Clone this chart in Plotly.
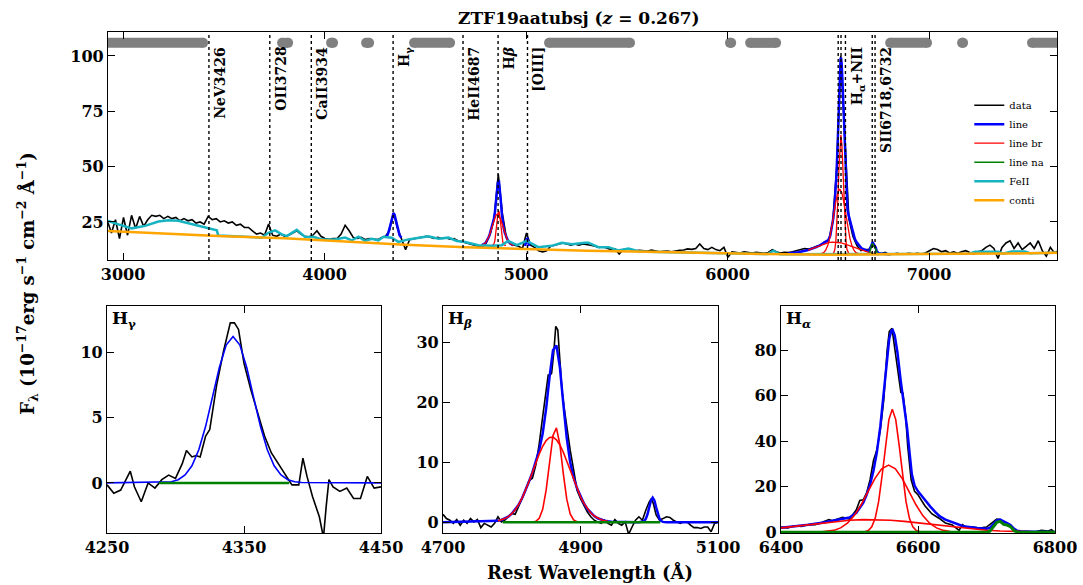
import plotly.graph_objects as go

FONT = "DejaVu Serif"

# ---------------- top panel: full spectrum (rest frame) ----------------
top_wave_start = 2922
top_wave_step = 20
top_flux = [
    25.5, 20, 26, 17.5, 27, 19, 28, 22, 27.5, 23,
    26, 28, 27.5, 28, 26.5, 27.5, 26.5, 27, 25.5, 26.5,
    25.5, 26, 24.5, 25, 24, 27.5, 26, 26.5, 25, 25.5,
    24.5, 25, 23.5, 24, 22.5, 22.5, 21, 19.5, 20, 19,
    24, 19, 18.5, 19.5, 18.5, 19, 20, 21, 19.5, 18.5,
    18.2, 19, 21, 18.5, 17.5, 17.2, 17.5, 17.5, 19.5, 23.5,
    21, 18, 17.5, 18, 17, 17.5, 17.3, 17, 17.8, 18.5,
    21, 29.2, 22, 17.5, 12.5, 17, 17.5, 17.8, 18, 18.5,
    18.2, 17.5, 18, 17.5, 17.8, 17.2, 17.5, 16.5, 16, 15.5,
    15, 14.5, 14, 13.5, 15.5, 19.5, 27, 46.5, 29, 18,
    15, 14.5, 14, 13, 20, 14.5, 13.5, 12, 11.5, 12,
    14, 14.5, 15, 15.5, 15, 14.5, 15, 14.5, 15, 14.8,
    14.5, 14, 13.5, 13.8, 13, 12.5, 12.8, 10.5, 12.5, 12.8,
    12.5, 12, 12.2, 12, 11.8, 12.3, 11.8, 11.5, 11.7, 11.8,
    11.5, 12, 12.2, 12.3, 12.8, 12.6, 13, 15, 13, 12.5,
    13.5, 12.5, 12, 13.5, 9, 11.5, 11.2, 11, 11.5, 11.2,
    11, 11.3, 11, 10.8, 11.2, 12.5, 11.5, 11, 11.3, 11.2,
    11.5, 12, 12.5, 13, 12.8, 13.2, 14, 14.5, 16, 16.5,
    25, 50, 100, 61, 26.5, 18.5, 14.3, 12, 12.5, 12.6,
    15.6, 11.2, 10.6, 11.2, 10.2, 10.5, 10.8, 10.4, 10.6, 10.8,
    10.5, 10.8, 10.5, 11, 12, 13, 12.5, 11.5, 12, 11,
    11.5, 10.8, 11.5, 12, 11.2, 10.5, 11.5, 12, 13.5, 14.5,
    13, 8.5, 13.5, 15.5, 16.5, 13, 15.5, 12.5, 14, 15.5,
    13, 16.5, 12, 9.5, 13.5, 11, 12,
]
top_wave = [top_wave_start + top_wave_step * i for i in range(len(top_flux))]

conti_wave = [2900, 3200, 3500, 3800, 4100, 4400, 4700, 5000, 5300, 5600, 5900,
              6200, 6500, 6800, 7100, 7400, 7650]
conti_flux = [21.0, 19.7, 18.5, 17.6, 16.0, 14.7, 13.6, 12.7, 12.0, 11.5, 10.9,
              10.5, 10.2, 10.5, 10.6, 10.7, 11.1]

feii_wave = [2900, 2927, 2977, 3043, 3109, 3175, 3225, 3274, 3324, 3390, 3440, 3465,
             3472, 3688, 3721, 3754, 3788, 3812, 3862, 3903, 3944, 3986, 4052, 4102,
             4135, 4168, 4201, 4234, 4267, 4292, 4333, 4366, 4416, 4466, 4515, 4565,
             4614, 4656, 4697, 4763, 4829, 4879, 4912, 4954, 5003, 5061, 5127, 5177,
             5227, 5293, 5309, 5359, 5409, 5458, 5508, 5557, 5600, 6200, 6227, 6260,
             7200, 7228, 7344, 7370, 7410, 7476, 7500, 7650]
feii_flux = [26.0, 25.4, 23.9, 22.1, 23.2, 25.2, 25.8, 25.5, 24.4, 22.9, 22.1, 21.2,
             18.9, 17.9, 20.1, 21.2, 19.4, 18.6, 21.4, 18.2, 18.3, 17.1, 17.1, 17.9,
             16.7, 18.3, 16.4, 17.4, 16.7, 18.3, 17.9, 16.0, 17.1, 17.9, 18.5, 17.4,
             17.9, 16.4, 15.9, 14.5, 14.2, 14.5, 16.4, 14.5, 16.4, 13.6, 14.2, 15.6,
             14.9, 15.6, 15.6, 13.6, 13.6, 12.1, 13.0, 11.8, 11.5, 10.5, 12.0, 10.4,
             10.6, 11.5, 11.5, 10.7, 11.6, 11.6, 10.9, 11.1]

# fitting windows (gray bars at the top)
win_start = [2880, 3789, 4032, 4206, 4444, 5114, 6012, 6112, 6807, 7164, 7511]
win_end = [3397, 3819, 4042, 4221, 4623, 5516, 6018, 6241, 6990, 7169, 7700]
win_level = 105.9

# emission-line markers
mark_waves = [3426, 3728, 3934, 4340, 4687, 4861, 5007, 6549, 6563, 6585, 6718, 6732]
label_waves = [3426, 3728, 3934, 4340, 4687, 4861, 5007, 6585, 6732]
label_texts = ["NeV3426", "OII3728", "CaII3934", "H<sub>γ</sub>", "HeII4687",
               "H<i>β</i>", "[OIII]", "H<sub>α</sub>+NII", "SII6718,6732"]

# local continuum (conti+FeII) level below each line in the top panel
hg_base_top = 17.7
hb_base_top = 14.3
ha_base_top = 10.3

# ---------------- H gamma ----------------
hg_wave = [4250, 4255, 4260, 4267, 4270, 4275, 4280, 4285, 4290, 4295, 4300, 4305,
           4308, 4312, 4315, 4318, 4322, 4325, 4330, 4335, 4340, 4343, 4346, 4350,
           4355, 4360, 4365, 4370, 4375, 4380, 4385, 4390, 4393, 4396, 4400, 4405,
           4408, 4410, 4412, 4415, 4420, 4425, 4430, 4435, 4440, 4445, 4450]
hg_flux = [-0.15, -0.8, -0.55, 0.9, -0.3, -1.45, 0.0, -0.4, 0.25, 0.6, 0.35, 1.5,
           2.5, 2.0, 2.1, 2.0, 3.6, 4.1, 7.5, 10.1, 12.3, 12.3, 11.8, 9.2,
           7.15, 5.35, 3.6, 2.3, 1.5, 0.6, -0.15, -0.15, 1.9, 0.5, -1.05, -2.6,
           -4.2, -1.8, 0.25, -0.3, -0.65, -0.4, -1.2, -1.2, 0.5, -0.4, -0.3]
hg_line_wave = [4250, 4292, 4297, 4302, 4307, 4312, 4317, 4322, 4327, 4332, 4337, 4342,
                4347, 4352, 4357, 4362, 4367, 4372, 4377, 4382, 4387, 4392, 4450]
hg_line = [0, 0.03, 0.09, 0.25, 0.61, 1.32, 2.55, 4.35, 6.59, 8.87, 10.6, 11.25,
           10.6, 8.87, 6.59, 4.35, 2.55, 1.32, 0.61, 0.25, 0.09, 0.03, 0]
hg_na_wave = [4288, 4383]
hg_na = [0, 0]

# ---------------- H beta ----------------
hb_wave = [4700, 4705, 4710, 4715, 4720, 4725, 4730, 4735, 4740, 4745, 4750, 4755,
           4760, 4765, 4770, 4775, 4780, 4785, 4790, 4795, 4800, 4805, 4810, 4815,
           4820, 4825, 4830, 4835, 4840, 4845, 4850, 4853, 4856, 4858, 4861, 4864,
           4867, 4870, 4873, 4876, 4880, 4885, 4890, 4895, 4900, 4905, 4910, 4915,
           4920, 4925, 4930, 4935, 4940, 4945, 4950, 4955, 4960, 4965, 4970, 4975,
           4980, 4985, 4990, 4995, 5000, 5003, 5006, 5010, 5015, 5020, 5025, 5030,
           5035, 5040, 5045, 5050, 5055, 5060, 5065, 5070, 5075, 5080, 5085, 5090,
           5095, 5100]
hb_flux = [1.3, 0.6, 0.33, -0.2, 0.44, -0.5, 0.33, -0.2, 0.6, 0.05, 0.44, -0.9,
           -0.2, -0.5, -0.8, -0.2, 0.9, 0.05, 0.33, 0.9, 1.45, 1.3, 2.55, 3.9,
           5.3, 6.9, 7.3, 9.5, 13.1, 17.6, 21.4, 24.5, 24.5, 24.8, 28.1, 32.6,
           32.0, 26.4, 22.0, 19.2, 15.9, 12.0, 8.7, 5.3, 3.9, 2.8, 1.7, 0.9,
           0.33, 0.05, -0.2, 0.33, -0.2, -0.5, 0.44, -0.2, -0.5, 0.05, -2.0, -0.8,
           0.33, 0.9, 0.33, 2.0, 3.4, 3.9, 3.1, 1.2, 0.33, 0.6, 0.9, 0.8,
           0.33, 0.05, -0.2, 0.05, 0.05, -0.5, -0.9, -0.9, -1.05, -0.8, -0.8, -1.6,
           -0.2, 0.0]
hb_line_wave = [4700, 4775, 4780, 4785, 4790, 4795, 4800, 4805, 4810, 4815, 4820, 4825,
                4830, 4835, 4840, 4845, 4850, 4855, 4860, 4865, 4870, 4875, 4880, 4885,
                4890, 4895, 4900, 4905, 4910, 4915, 4920, 4925, 4930, 4935, 4940, 4945,
                4985, 4990, 4992.5, 4995, 4997.5, 5000, 5002.5, 5005, 5007.5, 5010,
                5012.5, 5015, 5017.5, 5020, 5025, 5100]
hb_line = [0, 0.13, 0.22, 0.37, 0.60, 0.93, 1.41, 2.07, 2.92, 3.99, 5.28, 6.73,
           8.29, 10.03, 12.02, 14.78, 18.92, 24.20, 28.62, 29.44, 25.80, 19.73, 14.02, 9.98,
           7.41, 5.63, 4.23, 3.12, 2.22, 1.53, 1.02, 0.65, 0.41, 0.24, 0.14, 0.08,
           0, 0.05, 0.18, 0.55, 1.33, 2.49, 3.62, 4.1, 3.62, 2.49,
           1.33, 0.55, 0.18, 0.05, 0, 0]
hb_br1_wave = [4830, 4835, 4840, 4845, 4850, 4855, 4860, 4865, 4870, 4875, 4880, 4885,
               4890, 4895, 4900]
hb_br1 = [0.0, 0.15, 0.65, 2.14, 5.33, 10.09, 14.46, 15.71, 12.94, 8.08, 3.83, 1.37,
          0.37, 0.08, 0.0]
hb_br2_wave = [4780, 4785, 4790, 4795, 4800, 4805, 4810, 4815, 4820, 4825, 4830, 4835,
               4840, 4845, 4850, 4855, 4860, 4865, 4870, 4875, 4880, 4885, 4890, 4895,
               4900, 4905, 4910, 4915, 4920, 4925, 4930, 4935, 4940]
hb_br2 = [0.22, 0.37, 0.60, 0.93, 1.41, 2.07, 2.92, 3.99, 5.28, 6.73, 8.29, 9.88,
          11.37, 12.64, 13.59, 14.11, 14.16, 13.73, 12.86, 11.65, 10.19, 8.61, 7.04, 5.55,
          4.23, 3.12, 2.22, 1.53, 1.02, 0.65, 0.41, 0.24, 0.14]
hb_na_wave = [4787, 5016]
hb_na = [0, 0]

# ---------------- H alpha ----------------
ha_wave = [6400, 6410, 6420, 6430, 6440, 6450, 6460, 6470, 6475, 6480, 6490, 6500,
           6510, 6515, 6520, 6525, 6530, 6535, 6540, 6545, 6550, 6555, 6558, 6562,
           6565, 6570, 6575, 6578, 6582, 6585, 6590, 6595, 6600, 6610, 6620, 6630,
           6640, 6650, 6655, 6660, 6665, 6670, 6680, 6690, 6700, 6710, 6715, 6720,
           6725, 6730, 6735, 6740, 6750, 6760, 6770, 6780, 6790, 6795, 6800]
ha_flux = [2.3, 1.9, 2.9, 2.6, 3.4, 3.4, 4.4, 5.6, 5.1, 5.6, 6.6, 5.8,
           9.9, 14.0, 14.3, 17.3, 23.1, 31.6, 36.3, 45.0, 58.2, 80.1, 88.2, 89.6,
           83.0, 71.3, 61.4, 61.1, 50.9, 37.7, 23.1, 18.0, 16.5, 11.7, 8.2, 6.3,
           4.1, 3.2, 1.9, 0.9, 3.4, 2.3, 2.3, 1.9, 2.3, 4.8, 5.8, 5.6,
           4.4, 4.1, 2.3, 0.9, 0.4, 0.3, 0.15, 0.9, 0.6, 1.2, -0.3]
ha_line_wave = [6300, 6350, 6400, 6420, 6440, 6460, 6480, 6490, 6500, 6510, 6520, 6525,
                6530, 6535, 6540, 6545, 6550, 6555, 6558, 6561, 6563, 6566, 6570, 6575,
                6580, 6584, 6588, 6591, 6595, 6600, 6605, 6610, 6618, 6625, 6632, 6640,
                6652, 6666, 6686, 6700, 6705, 6710, 6715, 6720, 6725, 6730, 6735, 6740,
                6745, 6750, 6770, 6800]
ha_line = [0.4, 1.0, 2.0, 2.6, 3.3, 4.2, 5.2, 5.8, 6.5, 8.6, 12.9, 16.5,
           20.9, 27.0, 35.2, 46.5, 62.0, 77.5, 85.0, 88.5, 88.9, 86.5, 79.0, 66.0,
           54.5, 46.0, 34.0, 25.5, 20.5, 18.0, 16.2, 14.2, 11.3, 9.0, 7.0, 5.6,
           4.1, 2.7, 1.9, 1.6, 2.0, 3.6, 5.2, 5.6, 4.6, 4.0, 3.2, 1.6,
           0.7, 0.5, 0.3, 0.1]
ha_br1_wave = [6517.5, 6522.5, 6527.5, 6532.5, 6537.5, 6542.5, 6547.5, 6552.5, 6557.5,
               6562.5, 6567.5, 6572.5, 6577.5, 6582.5, 6587.5, 6592.5, 6597.5, 6602.5,
               6607.5]
ha_br1 = [0.05, 0.21, 0.77, 2.37, 6.15, 13.47, 24.73, 38.16, 49.51,
          54.0, 49.51, 38.16, 24.73, 13.47, 6.15, 2.37, 0.77, 0.21, 0.05]
ha_br2_wave = [6457, 6467, 6477, 6487, 6497, 6507, 6517, 6527, 6537, 6547, 6557,
               6567, 6577, 6587, 6597, 6607, 6617, 6627, 6637, 6647, 6657]
ha_br2 = [0.11, 0.33, 0.84, 1.94, 3.99, 7.36, 12.1, 17.9, 23.6, 27.9, 29.5,
          27.9, 23.6, 17.9, 12.1, 7.36, 3.99, 1.94, 0.84, 0.33, 0.11]
ha_br3_wave = [6400, 6420, 6440, 6460, 6480, 6500, 6520, 6540, 6560, 6580, 6600,
               6620, 6640, 6660, 6680, 6700, 6720, 6740, 6760, 6780, 6800]
ha_br3 = [1.97, 2.65, 3.40, 4.14, 4.80, 5.30, 5.57, 5.57, 5.30, 4.80, 4.14,
          3.40, 2.65, 1.97, 1.40, 0.94, 0.60, 0.37, 0.21, 0.12, 0.06]
ha_na_wave = [6400, 6700, 6705, 6710, 6715, 6720, 6725, 6730, 6735, 6740, 6745, 6750, 6800]
ha_na = [0, 0, 0.5, 2.5, 4.4, 4.8, 3.5, 3.2, 2.5, 0.8, 0.1, 0, 0]

# ---------------- colours ----------------
C_DATA = "black"
C_LINE = "blue"
C_BR = "red"
C_NA = "green"
C_FE = "#17b3c1"
C_CONT = "orange"
C_WIN = "#808080"


def shifted(waves, vals, base, thresh):
    xs, ys = [], []
    for w, v in zip(waves, vals):
        if v > thresh:
            xs.append(w)
            ys.append(v + base)
    return xs, ys


def join(segments):
    xs, ys = [], []
    for sx, sy in segments:
        if xs:
            xs.append(None)
            ys.append(None)
        xs.extend(sx)
        ys.extend(sy)
    return xs, ys


fig = go.Figure()

# windows
wx, wy = [], []
for a, b in zip(win_start, win_end):
    wx += [a, b, None]
    wy += [win_level, win_level, None]
fig.add_trace(go.Scatter(x=wx, y=wy, mode="lines+markers", line=dict(color=C_WIN, width=10),
                         marker=dict(color=C_WIN, size=10), showlegend=False,
                         hoverinfo="skip", xaxis="x", yaxis="y"))

# top panel
fig.add_trace(go.Scatter(x=top_wave, y=top_flux, mode="lines", name="data",
                         line=dict(color=C_DATA, width=1.6), xaxis="x", yaxis="y"))
bx, by = join([
    shifted(hg_line_wave, hg_line, hg_base_top, 0.2),
    shifted(hb_line_wave[:36], hb_line[:36], hb_base_top, 0.2),
    shifted(hb_line_wave[36:], hb_line[36:], hb_base_top - 0.7, 0.2),
    shifted(ha_line_wave, ha_line, ha_base_top, 0.0),
])
fig.add_trace(go.Scatter(x=bx, y=by, mode="lines", name="line",
                         line=dict(color=C_LINE, width=2.5), xaxis="x", yaxis="y"))
rx, ry = join([
    shifted(hb_br1_wave, hb_br1, hb_base_top, -1),
    shifted(hb_br2_wave, hb_br2, hb_base_top, -1),
    shifted(ha_br1_wave, ha_br1, ha_base_top, -1),
    shifted(ha_br2_wave, ha_br2, ha_base_top, -1),
    shifted(ha_br3_wave, ha_br3, ha_base_top, -1),
])
fig.add_trace(go.Scatter(x=rx, y=ry, mode="lines", name="line br",
                         line=dict(color=C_BR, width=1.3), xaxis="x", yaxis="y"))
gx, gy = shifted(ha_na_wave[1:-1], ha_na[1:-1], ha_base_top, -1)
fig.add_trace(go.Scatter(x=gx, y=gy, mode="lines", name="line na",
                         line=dict(color=C_NA, width=1.5), xaxis="x", yaxis="y"))
fig.add_trace(go.Scatter(x=feii_wave, y=feii_flux, mode="lines", name="FeII",
                         line=dict(color=C_FE, width=2.5), xaxis="x", yaxis="y"))
fig.add_trace(go.Scatter(x=conti_wave, y=conti_flux, mode="lines", name="conti",
                         line=dict(color=C_CONT, width=2.5), xaxis="x", yaxis="y"))

# bottom panels
panels = [
    ("x2", "y2", hg_wave, hg_flux, hg_line_wave, hg_line, [], hg_na_wave, hg_na, 1.6, 2.5),
    ("x3", "y3", hb_wave, hb_flux, hb_line_wave, hb_line,
     [(hb_br1_wave, hb_br1), (hb_br2_wave, hb_br2)], hb_na_wave, hb_na, 2.5, 2.5),
    ("x4", "y4", ha_wave, ha_flux, ha_line_wave, ha_line,
     [(ha_br1_wave, ha_br1), (ha_br2_wave, ha_br2), (ha_br3_wave, ha_br3)],
     ha_na_wave, ha_na, 2.5, 3),
]
for xa, ya, dw, df, lw, lf, brs, nw, nf, lwid, nwid in panels:
    fig.add_trace(go.Scatter(x=dw, y=df, mode="lines", line=dict(color=C_DATA, width=1.6),
                             showlegend=False, xaxis=xa, yaxis=ya))
    fig.add_trace(go.Scatter(x=lw, y=lf, mode="lines", line=dict(color=C_LINE, width=lwid),
                             showlegend=False, xaxis=xa, yaxis=ya))
    for w, f in brs:
        fig.add_trace(go.Scatter(x=w, y=f, mode="lines", line=dict(color=C_BR, width=1.6),
                                 showlegend=False, xaxis=xa, yaxis=ya))
    fig.add_trace(go.Scatter(x=nw, y=nf, mode="lines", line=dict(color=C_NA, width=nwid),
                             showlegend=False, xaxis=xa, yaxis=ya))

# dotted marker lines
for w in mark_waves:
    fig.add_shape(type="line", xref="x", yref="y domain", x0=w, x1=w, y0=0, y1=1,
                  line=dict(color="black", width=1.4, dash="dot"), layer="above")

annotations = []
for w, t in zip(label_waves, label_texts):
    annotations.append(dict(x=w, y=105.0, xref="x", yref="y", text=t, textangle=-90,
                            xanchor="left", yanchor="top", showarrow=False, xshift=1,
                            font=dict(family=FONT, size=14, color="black", weight="bold")))
for xd, yd, t in [("x2 domain", "y2 domain", "H<sub>γ</sub>"),
                  ("x3 domain", "y3 domain", "H<sub><i>β</i></sub>"),
                  ("x4 domain", "y4 domain", "H<sub><i>α</i></sub>")]:
    annotations.append(dict(x=0.01, y=1.0, xref=xd, yref=yd, text=t, showarrow=False,
                            xanchor="left", yanchor="top",
                            font=dict(family=FONT, size=17, color="black", weight="bold")))
annotations.append(dict(x=0.535, y=0.99, xref="paper", yref="paper",
                        text="ZTF19aatubsj (<i>z</i> = 0.267)", showarrow=False,
                        xanchor="center", yanchor="top",
                        font=dict(family=FONT, size=17, color="black", weight="bold")))
annotations.append(dict(x=0.025, y=0.515, xref="paper", yref="paper", textangle=-90,
                        text="F<sub>λ</sub> (10<sup>−17</sup>erg s<sup>−1</sup> cm<sup>−2</sup> Å<sup>−1</sup>)",
                        showarrow=False, xanchor="center", yanchor="middle",
                        font=dict(family=FONT, size=18, color="black", weight="bold")))
annotations.append(dict(x=0.545, y=0.0, xref="paper", yref="paper",
                        text="Rest Wavelength (Å)", showarrow=False,
                        xanchor="center", yanchor="bottom",
                        font=dict(family=FONT, size=18, color="black", weight="bold")))

tickfont = dict(family=FONT, size=16, color="black", weight="bold")


def ax(domain, rng, tickvals, anchor):
    return dict(domain=domain, range=rng, tickvals=tickvals, anchor=anchor,
                showline=True, linecolor="black", linewidth=1.2, mirror="ticks",
                ticks="inside", ticklen=7, tickwidth=1.2, tickcolor="black",
                showgrid=False, zeroline=False, tickfont=tickfont, automargin=False)


W, H = 1083, 585
fig.update_layout(
    width=W, height=H, margin=dict(l=0, r=0, t=0, b=0, autoexpand=False),
    paper_bgcolor="white", plot_bgcolor="white",
    xaxis=ax([108 / W, 1057 / W], [2925, 7635], [3000, 4000, 5000, 6000, 7000], "y"),
    yaxis=ax([1 - 260 / H, 1 - 32 / H], [7.8, 110.8], [25, 50, 75, 100], "x"),
    xaxis2=ax([107 / W, 381 / W], [4250, 4450], [4250, 4350, 4450], "y2"),
    yaxis2=ax([1 - 533 / H, 1 - 306 / H], [-3.85, 13.6], [0, 5, 10], "x2"),
    xaxis3=ax([443 / W, 718 / W], [4700, 5100], [4700, 4900, 5100], "y3"),
    yaxis3=ax([1 - 533 / H, 1 - 306 / H], [-1.8, 36], [0, 10, 20, 30], "x3"),
    xaxis4=ax([781 / W, 1055 / W], [6400, 6800], [6400, 6600, 6800], "y4"),
    yaxis4=ax([1 - 533 / H, 1 - 306 / H], [-0.3, 99.4], [0, 20, 40, 60, 80], "x4"),
    annotations=annotations,
    legend=dict(x=0.895, y=0.845, xanchor="left", yanchor="top",
                bgcolor="rgba(0,0,0,0)", tracegroupgap=0, itemwidth=30,
                font=dict(family=FONT, size=10, color="black")),
    showlegend=True,
)

fig.write_html("out.html", config={"displayModeBar": False},
               post_script="document.body.style.margin='0px';document.body.style.padding='0px';")
